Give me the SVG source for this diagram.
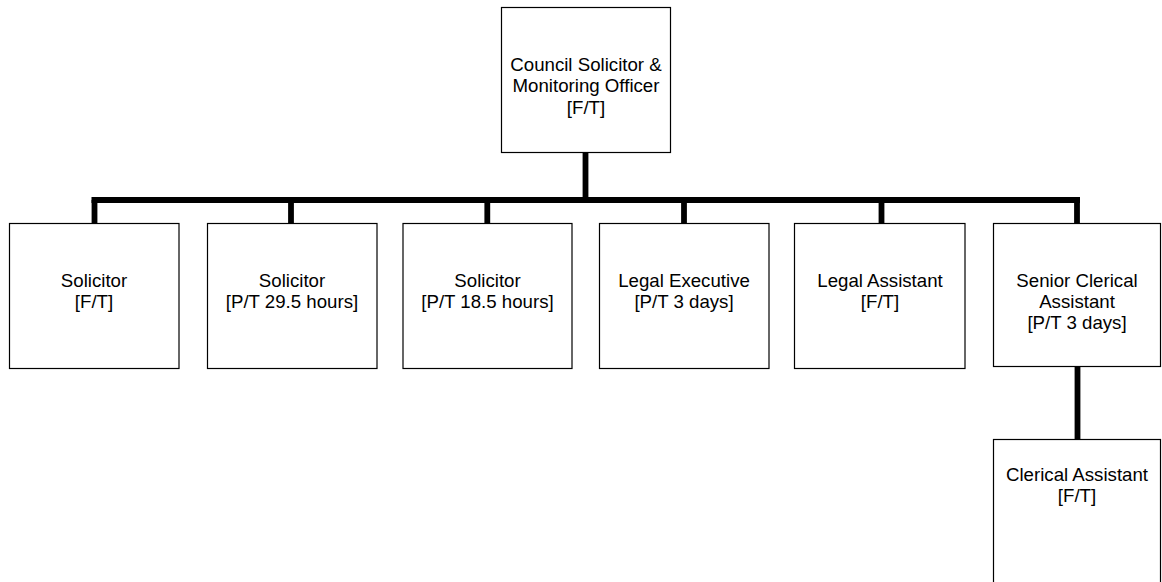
<svg xmlns="http://www.w3.org/2000/svg" width="1162" height="582" viewBox="0 0 1162 582">
  <style>
    .box { fill: #ffffff; stroke: #000000; stroke-width: 1.2; }
    .lbl { font-family: "Liberation Sans", Arial, sans-serif; font-size: 18.67px; fill: #000000; text-anchor: middle; }
    .conn { fill: none; stroke: #000000; stroke-width: 5.8; stroke-linecap: butt; }
  </style>
  <rect width="1162" height="582" fill="#ffffff"/>
  <g id="connectors">
    <line class="conn" x1="585.5" y1="152" x2="585.5" y2="200"/>
    <line class="conn" x1="91.5" y1="200" x2="1080" y2="200"/>
    <line class="conn" x1="94.5" y1="200" x2="94.5" y2="223"/>
    <line class="conn" x1="291" y1="200" x2="291" y2="223"/>
    <line class="conn" x1="487.3" y1="200" x2="487.3" y2="223"/>
    <line class="conn" x1="684" y1="200" x2="684" y2="223"/>
    <line class="conn" x1="881.5" y1="200" x2="881.5" y2="223"/>
    <line class="conn" x1="1077" y1="197" x2="1077" y2="223"/>
    <line class="conn" x1="1077.5" y1="367" x2="1077.5" y2="439"/>
  </g>
  <g id="n_council_solicitor">
    <rect class="box" x="501.5" y="7.5" width="169" height="145"/>
    <text class="lbl" x="586" y="70.5">Council Solicitor &amp;</text>
    <text class="lbl" x="586" y="92">Monitoring Officer</text>
    <text class="lbl" x="586" y="113.5">[F/T]</text>
  </g>
  <g id="n_solicitor_ft">
    <rect class="box" x="9.5" y="223.5" width="169.5" height="145"/>
    <text class="lbl" x="94" y="286.5">Solicitor</text>
    <text class="lbl" x="94" y="308">[F/T]</text>
  </g>
  <g id="n_solicitor_29">
    <rect class="box" x="207.5" y="223.5" width="169.5" height="145"/>
    <text class="lbl" x="292" y="286.5">Solicitor</text>
    <text class="lbl" x="292" y="308">[P/T 29.5 hours]</text>
  </g>
  <g id="n_solicitor_18">
    <rect class="box" x="403" y="223.5" width="169" height="145"/>
    <text class="lbl" x="487.5" y="286.5">Solicitor</text>
    <text class="lbl" x="487.5" y="308">[P/T 18.5 hours]</text>
  </g>
  <g id="n_legal_exec">
    <rect class="box" x="599.5" y="223.5" width="169.5" height="145"/>
    <text class="lbl" x="684" y="286.5">Legal Executive</text>
    <text class="lbl" x="684" y="308">[P/T 3 days]</text>
  </g>
  <g id="n_legal_assistant">
    <rect class="box" x="794.5" y="223.5" width="170.5" height="145"/>
    <text class="lbl" x="880" y="286.5">Legal Assistant</text>
    <text class="lbl" x="880" y="308">[F/T]</text>
  </g>
  <g id="n_senior_clerical">
    <rect class="box" x="993.5" y="223.5" width="167" height="143"/>
    <text class="lbl" x="1077" y="286.5">Senior Clerical</text>
    <text class="lbl" x="1077" y="308">Assistant</text>
    <text class="lbl" x="1077" y="329">[P/T 3 days]</text>
  </g>
  <g id="n_clerical_assistant">
    <rect class="box" x="993.5" y="439.5" width="167" height="150"/>
    <text class="lbl" x="1077" y="481">Clerical Assistant</text>
    <text class="lbl" x="1077" y="502">[F/T]</text>
  </g>
</svg>
